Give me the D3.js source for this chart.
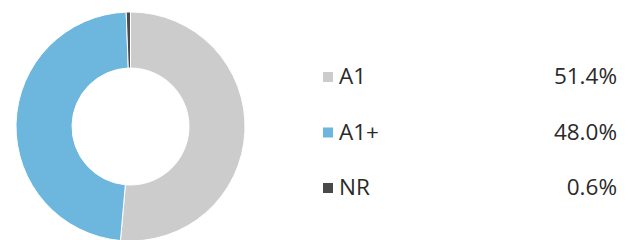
<!DOCTYPE html>
<html>
<head>
<meta charset="utf-8">
<script src="https://cdn.jsdelivr.net/npm/d3@7"></script>
<style>
  body { margin: 0; background: #fff; }
  .legend-text { font-family: "Open Sans", sans-serif; font-size: 22.5px; fill: #2a2a2a; }
</style>
</head>
<body>
<svg id="chart"></svg>
<script>
const categories = ["A1", "A1+", "NR"];
const values = [51.4, 48.0, 0.6];
const labels = ["51.4%", "48.0%", "0.6%"];
const colors = ["#cccccc", "#6db6de", "#4a4a4a"];

const width = 629, height = 240;
const svg = d3.select("#chart").attr("width", width).attr("height", height);

const data = categories.map((c, i) => ({ key: c, value: values[i], label: labels[i] }));

const color = d3.scaleOrdinal().domain(categories).range(colors);

const pie = d3.pie().sort(null).value(d => d.value);
const arc = d3.arc().innerRadius(58.5).outerRadius(114.5);

const chart = svg.append("g").attr("transform", "translate(130.5,126.5)");

chart.selectAll("path")
  .data(pie(data))
  .join("path")
  .attr("d", arc)
  .attr("fill", d => color(d.data.key))
  .attr("stroke", "white")
  .style("stroke-width", "1px");

// legend
const y = d3.scalePoint().domain(categories).range([84, 195]);

const legend = svg.append("g");
const rows = legend.selectAll("g")
  .data(data)
  .join("g")
  .attr("transform", d => `translate(0,${y(d.key)})`);

rows.append("rect")
  .attr("x", 323)
  .attr("y", -12)
  .attr("width", 10)
  .attr("height", 10)
  .attr("fill", d => color(d.key));

rows.append("text")
  .attr("x", 339)
  .attr("y", 0)
  .attr("class", "legend-text")
  .text(d => d.key);

rows.append("text")
  .attr("x", 617)
  .attr("y", 0)
  .attr("text-anchor", "end")
  .attr("class", "legend-text")
  .text(d => d.label);
</script>
</body>
</html>
